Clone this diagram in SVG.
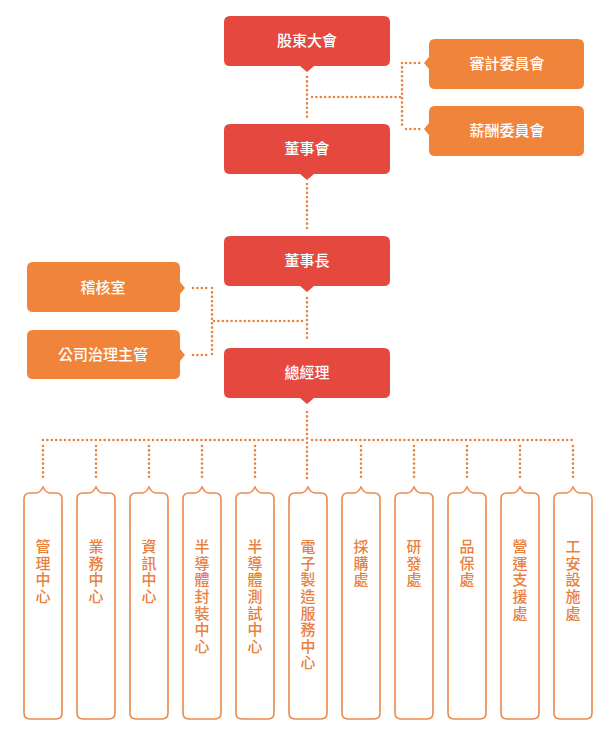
<svg xmlns="http://www.w3.org/2000/svg" width="612" height="731" viewBox="0 0 612 731">
<style>
.red{fill:#E4483F}
.org{fill:#F0843B}
.vbox{fill:#fff;stroke:#EA8A4C;stroke-width:1.6}
.wt{fill:#fff;font-family:"Noto Sans CJK TC","Noto Sans CJK SC",sans-serif;font-size:15px;font-weight:500;text-anchor:middle;dominant-baseline:central}
.vt{fill:#E8803E;font-family:"Noto Sans CJK TC","Noto Sans CJK SC",sans-serif;font-size:15px;font-weight:500;writing-mode:vertical-rl;letter-spacing:1.6px}
.dot{fill:none;stroke:#E8843F;stroke-width:2.6;stroke-linecap:round;stroke-dasharray:0 4.4}
</style>
<rect width="612" height="731" fill="#fff"/>
<g id="connectors">
<path class="dot" d="M307 77 V118"/>
<path class="dot" d="M312 97 H402"/>
<path class="dot" d="M402 63 V129"/>
<path class="dot" d="M406 63 H421 M406 129 H421"/>
<path class="dot" d="M307 184 V230"/>
<path class="dot" d="M307 298 V342"/>
<path class="dot" d="M302 321 H212"/>
<path class="dot" d="M212 288 V355"/>
<path class="dot" d="M193 288 H208 M193 355 H208"/>
<path class="dot" d="M307 412 V480"/>
<path class="dot" d="M43 440 H303 M312 440 H573"/>
<path class="dot" d="M43 446 V481 M96 446 V481 M149 446 V481 M202 446 V481 M255 446 V481 M361 446 V481 M414 446 V481 M467 446 V481 M520 446 V481 M573 446 V481"/>
</g>
<g id="n-gm-meeting">
<path class="red" d="M230 16 H384 Q390 16 390 22 V60 Q390 66 384 66 H314 L307 72 L300 66 H230 Q224 66 224 60 V22 Q224 16 230 16 Z"/>
<text class="wt" x="307" y="39.5">股東大會</text>
</g>
<g id="n-board">
<path class="red" d="M230 124 H384 Q390 124 390 130 V168 Q390 174 384 174 H314 L307 180 L300 174 H230 Q224 174 224 168 V130 Q224 124 230 124 Z"/>
<text class="wt" x="307" y="147.5">董事會</text>
</g>
<g id="n-chairman">
<path class="red" d="M230 236 H384 Q390 236 390 242 V280 Q390 286 384 286 H314 L307 292 L300 286 H230 Q224 286 224 280 V242 Q224 236 230 236 Z"/>
<text class="wt" x="307" y="259.5">董事長</text>
</g>
<g id="n-gm">
<path class="red" d="M230 348 H384 Q390 348 390 354 V392 Q390 398 384 398 H314 L307 404 L300 398 H230 Q224 398 224 392 V354 Q224 348 230 348 Z"/>
<text class="wt" x="307" y="371.5">總經理</text>
</g>
<g id="n-audit-committee">
<path class="org" d="M435 39 H578 Q584 39 584 45 V83 Q584 89 578 89 H435 Q429 89 429 83 V69 L424 63 L429 57 V45 Q429 39 435 39 Z"/>
<text class="wt" x="507" y="62.5">審計委員會</text>
</g>
<g id="n-comp-committee">
<path class="org" d="M435 106 H578 Q584 106 584 112 V150 Q584 156 578 156 H435 Q429 156 429 150 V135 L424 129 L429 123 V112 Q429 106 435 106 Z"/>
<text class="wt" x="507" y="129.5">薪酬委員會</text>
</g>
<g id="n-audit-office">
<path class="org" d="M33 262 H174 Q180 262 180 268 V282 L185 288 L180 294 V306 Q180 312 174 312 H33 Q27 312 27 306 V268 Q27 262 33 262 Z"/>
<text class="wt" x="103" y="286.5">稽核室</text>
</g>
<g id="n-governance">
<path class="org" d="M33 330 H174 Q180 330 180 336 V349 L185 355 L180 361 V373 Q180 379 174 379 H33 Q27 379 27 373 V336 Q27 330 33 330 Z"/>
<text class="wt" x="103" y="353.5">公司治理主管</text>
</g>
<defs>
<path id="vb" d="M-13 493 H-7 Q-3 493 0 487 Q3 493 7 493 H13 Q19 493 19 499 V713 Q19 719 13 719 H-13 Q-19 719 -19 713 V499 Q-19 493 -13 493 Z"/>
</defs>
<g id="n-mgmt">
<use href="#vb" class="vbox" x="43"/>
<text class="vt" x="43" y="539">管理中心</text>
</g>
<g id="n-sales">
<use href="#vb" class="vbox" x="96"/>
<text class="vt" x="96" y="539">業務中心</text>
</g>
<g id="n-it">
<use href="#vb" class="vbox" x="149"/>
<text class="vt" x="149" y="539">資訊中心</text>
</g>
<g id="n-packaging">
<use href="#vb" class="vbox" x="202"/>
<text class="vt" x="202" y="539">半導體封裝中心</text>
</g>
<g id="n-testing">
<use href="#vb" class="vbox" x="255"/>
<text class="vt" x="255" y="539">半導體測試中心</text>
</g>
<g id="n-ems">
<use href="#vb" class="vbox" x="308"/>
<text class="vt" x="308" y="539">電子製造服務中心</text>
</g>
<g id="n-purchasing">
<use href="#vb" class="vbox" x="361"/>
<text class="vt" x="361" y="539">採購處</text>
</g>
<g id="n-rd">
<use href="#vb" class="vbox" x="414"/>
<text class="vt" x="414" y="539">研發處</text>
</g>
<g id="n-qa">
<use href="#vb" class="vbox" x="467"/>
<text class="vt" x="467" y="539">品保處</text>
</g>
<g id="n-ops">
<use href="#vb" class="vbox" x="520"/>
<text class="vt" x="520" y="539">營運支援處</text>
</g>
<g id="n-safety">
<use href="#vb" class="vbox" x="573"/>
<text class="vt" x="573" y="539">工安設施處</text>
</g>
</svg>
